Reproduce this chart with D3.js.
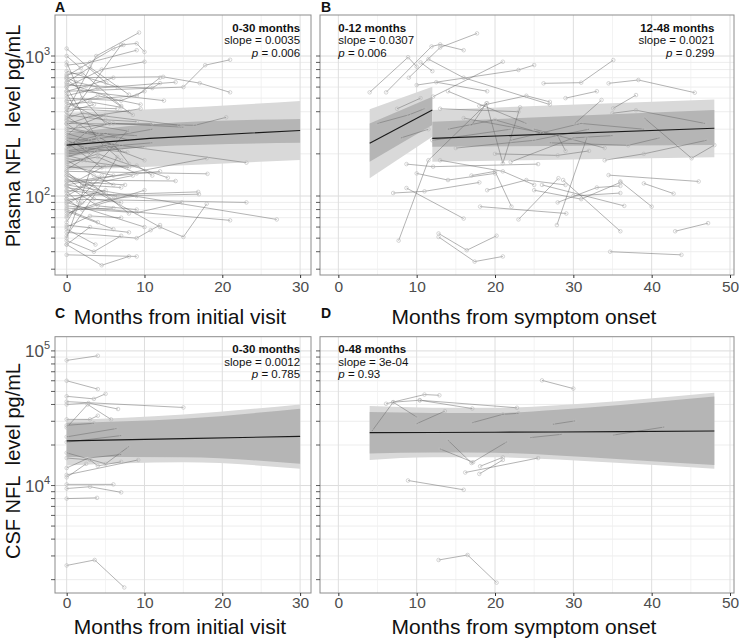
<!DOCTYPE html>
<html><head><meta charset="utf-8">
<script src="https://cdn.jsdelivr.net/npm/d3@7"></script>
<style>
body{margin:0;background:#fff;}
text{font-family:"Liberation Sans",Arial,Helvetica,sans-serif;}
</style></head>
<body><svg id="chart" width="739" height="639"></svg>
<script>
// ---------------- DATA ----------------
// Panel A: plasma NFL (pg/mL) vs months from initial visit; each subject = [[month, value],...]
const subjectsA = [
 [[0,400],[3.8,1000],[9.3,1470]],[[0,350],[7,1200],[9,1230],[10,1070]],[[0,600],[4.5,800],[10,910]],
 [[0,560],[15,600],[17.8,860],[21,940]],[[0,700],[12.4,710],[17.1,640],[21,550]],[[0,330],[16.5,320],[20.5,365]],
 [[0,260],[23.1,173]],[[0,120],[27,68]],[[0,95],[23.1,90]],[[0,85],[21,67]],[[0,140],[12,60],[15,51],[18,88]],
 [[0,150],[18.1,144]],[[0,100],[16.9,107]],[[0,120],[18,186]],[[0,1130],[5.1,640]],[[0,720],[6,1130],[7.3,1200]],
 [[0,650],[3,830],[8,530]],[[0,620],[11,590],[12,640]],[[0,500],[7,480],[10,560]],[[0,480],[9,520],[12,700]],
 [[0,740],[2,760],[7,440]],[[0,520],[4,590],[14,650]],[[0,45],[4.5,32],[8,37]],[[0,38],[9,37]],
 [[0,48],[3.5,40],[7,52]],[[0,60],[3,72],[7,70]],[[0,55],[9,50],[10.8,57],[12,62]],[[0,80],[4,65]],
 [[0,82],[9,76],[14.8,90]],[[0,110],[6,100],[17,103]],[[0,95],[2,80],[10,110]],[[0,130],[14,128]],
 [[0,160],[9,165],[11,140]],[[0,170],[4,200],[13,135]],[[0,210],[6,235],[8,170]],[[0,190],[5,230],[10,180]],
 [[0,230],[4,260]],[[0,300],[6,330],[15,310]],[[0,280],[3,250],[11,300]],[[0,360],[2,390],[14.5,320]],
 [[0,380],[5,350],[9,340]],[[0,420],[8,400]],[[0,450],[3,470],[7,430]],[[0,330],[1,300],[4,280]],
 [[0,250],[2.5,220],[7.8,205]],[[0,240],[4.5,160]],[[0,200],[10,225]],[[0,180],[3.5,140],[6,120]],
 [[0,150],[2,120],[7,115]],[[0,140],[1.5,130],[5,165]],[[0,125],[4,135],[12,150]],[[0,115],[6.5,100]],
 [[0,105],[3,125],[8,75]],[[0,92],[5,110]],[[0,88],[2,100],[4.5,140]],[[0,75],[5.5,95],[9,100]],
 [[0,70],[3.5,105]],[[0,65],[1,80],[6,82]],[[0,52],[4,110],[6.5,190]],[[0,50],[3,150],[8,300]],
 [[0,900],[2,500],[5,330]],[[0,600],[4,250],[7,180]],[[0,1000],[1.8,820]],[[0,860],[3,900],[9,1100]],
 [[0,780],[6.5,600]],[[0,680],[2,560],[12.5,480]],[[0,640],[5,520],[8.5,380]],[[0,540],[1,430],[6.5,420]],
 [[0,470],[5.5,330],[11,330]],[[0,430],[4,520],[9.5,450]],[[0,400],[3.5,450]],[[0,370],[7,210]],
 [[0,345],[8,290]],[[0,310],[2.5,280],[6.5,260]],[[0,290],[9,270]],[[0,270],[1.5,320],[5,380]],
 [[0,220],[3,300],[5.5,330]],[[0,205],[7,230],[11,240]],[[0,195],[2.5,180]],[[0,185],[8,160]],
 [[0,175],[4,190],[9,145]],[[0,165],[6,140]],[[0,155],[2,180],[3.8,210]],[[0,145],[5,105]],
 [[0,135],[3.5,95],[7,90]],[[0,128],[7.5,120]],[[0,118],[4,85],[9,80]],[[0,108],[1.5,90]],
 [[0,100],[2.5,120],[8.5,140]],[[0,90],[10,60]],[[0,78],[6,58]],[[0,72],[2,90]],[[0,62],[8,55]],
 [[0,58],[3.7,45]],[[0,45],[3,60]],[[0,700],[1.2,650],[4,600]],[[0,560],[2.5,610],[6,700]],
 [[0,325],[3,370],[9.5,420]],[[0,235],[5,280],[8,250]],[[0,215],[1,240],[3,200]]
];
// Panel B: plasma NFL vs months from symptom onset
const subjectsB = [
 [[4,550],[8.9,980],[10,840]],[[6.1,550],[11.9,1170],[13,1210],[16,1100]],[[9,700],[13,1150],[17.7,1450]],
 [[10.5,900],[12,780]],[[11.5,950],[16,700],[27,450]],[[10,620],[23,795],[25,862]],[[12.1,513],[21,910]],
 [[26.2,638],[31,645],[35.1,935]],[[34.5,638],[38.3,674],[45.5,547]],[[35.1,423],[38,526]],
 [[35,390],[38,410],[46.8,330]],[[39.1,359],[45.1,186],[48,231]],[[30.2,330],[33.6,485]],
 [[27.9,62],[31.7,258]],[[17,320],[18.9,459],[21,171],[23.2,430]],[[34.5,141],[46,127]],
 [[39,123],[42.8,104]],[[36,127],[40,84]],[[43,56],[47.2,64]],[[34.7,40],[43.8,38]],[[28.7,130],[36,56]],
 [[23,68],[28.1,134]],[[18.1,84],[29.1,75]],[[8.7,114],[16,69]],[[7,105],[11,108],[18,125]],
 [[7.7,48],[11.5,180],[19,460]],[[12.8,54],[16.4,41],[20.2,52]],[[12.8,51],[17.4,34],[21,37]],
 [[8.7,169],[12.1,162],[25.5,169]],[[12,250],[22,300]],[[13,420],[23,400]],[[14,560],[24,330]],
 [[8,260],[11.5,300]],[[5,330],[9,380],[11,420]],[[7.5,420],[10.5,500]],[[16,360],[28,270],[29,210]],
 [[15,220],[25,250],[32,300]],[[20,200],[28,195],[32,210]],[[22,175],[30,260],[35,270]],
 [[25,300],[34,220]],[[27,240],[37,230],[41,260]],[[34,180],[39,200],[47,250]],[[13,180],[21,150],[25,120]],
 [[17,140],[20,150],[22.1,84]],[[19,110],[24,130],[29,120]],[[25,110],[31,95],[36,125]],
 [[28,90],[33,115],[36,118]],[[30,100],[36,105]],[[26,120],[36.5,85]],[[14,300],[20,350],[26,280]],
 [[18,440],[24,520],[27,470]],[[29,500],[33,560]],[[12.5,650],[19,560]],[[22,250],[31,330],[39,300]],
 [[10,145],[14,130],[20,145]]
];
// Panel C: CSF NFL vs months from initial visit
const subjectsC = [
 [[0,85000],[4,92000]],[[0,60000],[4,52000]],[[0,46000],[3.5,44000],[5,48000]],[[0,42000],[15,38000]],
 [[0,40000],[2.8,41000],[6.6,37000]],[[0,27000],[2.7,40000],[5.7,31000]],[[0,31000],[3,31000],[4,33000]],
 [[0,28000],[3.5,29000]],[[0,23000],[6.4,26500]],[[0,21000],[7,23500]],[[0,17500],[5,14500],[8,19500]],
 [[0,16000],[3,15500],[4,14000],[7,15000]],[[0,13500],[2.8,16000],[7,17000]],[[0,12000],[9.2,15500]],
 [[0,11500],[2.5,14500]],[[0,10200],[6,10200]],[[0,9500],[3,9800],[7,8900]],[[0,8000],[3.9,8100]],
 [[0,2550],[3.6,2800],[7.4,1750]]
];
// Panel D: CSF NFL vs months from symptom onset
const subjectsD = [
 [[4.3,25400],[7,41600],[10,32300]],[[10,28800],[13.6,35700]],[[6.1,40500],[11,47400],[12.9,46800]],
 [[7,41600],[10.4,43000],[17.1,37300]],[[10.4,43000],[22.8,37800]],[[26,60400],[30,52500]],
 [[17.1,29300],[21,33800],[23,34400]],[[27.4,28500],[30.2,30200]],[[35.1,23700],[41.6,27200]],
 [[24.5,22700],[28.5,24000]],[[14,21700],[17,14700],[21.5,21100]],[[13,18700],[17.2,14900]],
 [[18.1,13900],[21,16200]],[[16.2,12500],[25.5,16000]],[[18,12200],[21,15500]],[[8.9,10900],[16,9300]],
 [[12.8,2800],[16.5,3050],[20.2,1900]]
];
// Model fits: months, fitted line, and the two bands (light = wide, dark = narrow)
const fitA_x = [0,10.7,30], fitA_line=[231,258,294], fitA_lightHi=[394,416,477], fitA_lightLo=[153,162,181], fitA_darkHi=[280,325,355], fitA_darkLo=[190,225,240];
const fitB1_x = [4,12], fitB1_line=[238,412], fitB1_lightHi=[416,604], fitB1_lightLo=[134,265], fitB1_darkHi=[330,512], fitB1_darkLo=[176,321];
const fitB2_x = [12,48], fitB2_line=[258,305], fitB2_lightHi=[412,490], fitB2_lightLo=[176,189], fitB2_darkHi=[339,412], fitB2_darkLo=[225,231];
const fitC_x = [0,15,30], fitC_line=[21460,22300,23200], fitC_lightHi=[30500,33700,40000], fitC_lightLo=[14100,14900,13300], fitC_darkHi=[29300,31400,37200], fitC_darkLo=[16300,16200,14500];
const fitD_x = [4,12,20,28,36,48], fitD_line=[24700,24800,24900,25000,25150,25400], fitD_lightHi=[38900,37900,37800,39500,42500,48800], fitD_lightLo=[15500,16200,16200,15600,14700,13300], fitD_darkHi=[35100,34600,34600,36500,39700,45800], fitD_darkLo=[17300,17600,17500,16700,15700,14200];
// Tick labels / domains
const xTicksInitial = [0,10,20,30], xMinorInitial=[5,15,25];
const xTicksOnset = [0,10,20,30,40,50], xMinorOnset=[5,15,25,35,45];
const xDomainInitial = [-1.5,31.4], xDomainOnset=[-2.34,50.51];
const yDomainPlasma = [Math.pow(10,1.4357), Math.pow(10,3.2929)], yMajorPlasma=[2,3];
const yDomainCSF = [Math.pow(10,3.2019), Math.pow(10,5.1054)], yMajorCSF=[4,5];
const annotA = [{title:"0-30 months", slope:"0.0035", p:"0.006", side:"right", at:30}];
const annotB = [{title:"0-12 months", slope:"0.0307", p:"0.006", side:"left", at:0},{title:"12-48 months", slope:"0.0021", p:"0.299", side:"right", at:48}];
const annotC = [{title:"0-30 months", slope:"0.0012", p:"0.785", side:"right", at:30}];
const annotD = [{title:"0-48 months", slope:"3e-04", p:"0.93", side:"left", at:0}];

// ---------------- DRAW ----------------
const svg = d3.select("#chart");
const panels = [
 {label:"A", box:[55,15,311,275], subj:subjectsA, xd:xDomainInitial, xt:xTicksInitial, xm:xMinorInitial, yd:yDomainPlasma, ym:yMajorPlasma, ylab:true,
  fits:[{x:fitA_x,l:fitA_line,lh:fitA_lightHi,ll:fitA_lightLo,dh:fitA_darkHi,dl:fitA_darkLo}], ann:annotA, xtitle:"Months from initial visit", titleY:324, labelY:12, pad:3},
 {label:"B", box:[320,15,734,275], subj:subjectsB, xd:xDomainOnset, xt:xTicksOnset, xm:xMinorOnset, yd:yDomainPlasma, ym:yMajorPlasma, ylab:false,
  fits:[{x:fitB1_x,l:fitB1_line,lh:fitB1_lightHi,ll:fitB1_lightLo,dh:fitB1_darkHi,dl:fitB1_darkLo},{x:fitB2_x,l:fitB2_line,lh:fitB2_lightHi,ll:fitB2_lightLo,dh:fitB2_darkHi,dl:fitB2_darkLo}], ann:annotB, xtitle:"Months from symptom onset", titleY:324, labelY:12, pad:3},
 {label:"C", box:[55,336.7,311,593], subj:subjectsC, xd:xDomainInitial, xt:xTicksInitial, xm:xMinorInitial, yd:yDomainCSF, ym:yMajorCSF, ylab:true,
  fits:[{x:fitC_x,l:fitC_line,lh:fitC_lightHi,ll:fitC_lightLo,dh:fitC_darkHi,dl:fitC_darkLo}], ann:annotC, xtitle:"Months from initial visit", titleY:634, labelY:318, pad:1},
 {label:"D", box:[320,336.7,734,593], subj:subjectsD, xd:xDomainOnset, xt:xTicksOnset, xm:xMinorOnset, yd:yDomainCSF, ym:yMajorCSF, ylab:false,
  fits:[{x:fitD_x,l:fitD_line,lh:fitD_lightHi,ll:fitD_lightLo,dh:fitD_darkHi,dl:fitD_darkLo}], ann:annotD, xtitle:"Months from symptom onset", titleY:634, labelY:318, pad:1}
];

panels.forEach((P,pi)=>{
  const [x0,y0,x1,y1] = P.box;
  const x = d3.scaleLinear().domain(P.xd).range([x0,x1]);
  const y = d3.scaleLog().domain(P.yd).range([y1,y0]);
  const g = svg.append("g");
  const clipId = "clip"+pi;
  svg.append("clipPath").attr("id",clipId).append("rect").attr("x",x0).attr("y",y0).attr("width",x1-x0).attr("height",y1-y0);
  g.append("rect").attr("x",x0).attr("y",y0).attr("width",x1-x0).attr("height",y1-y0).attr("fill","#fff");
  const lo = Math.floor(Math.log10(P.yd[0])), hi = Math.ceil(Math.log10(P.yd[1]));
  const logVals = [];
  for(let e=lo;e<=hi;e++) for(let k=1;k<=9;k++){ const v=k*Math.pow(10,e); if(v>=P.yd[0]&&v<=P.yd[1]) logVals.push({v,k}); }
  // grid
  const grid = g.append("g").attr("clip-path",`url(#${clipId})`);
  grid.selectAll("line.hy").data(logVals).join("line")
    .attr("x1",x0).attr("x2",x1).attr("y1",d=>y(d.v)).attr("y2",d=>y(d.v))
    .attr("stroke",d=>d.k===1?"#dcdcdc":"#e8e8e8").attr("stroke-width",d=>d.k===1?1:0.8);
  grid.selectAll("line.mx").data(P.xm).join("line")
    .attr("x1",d=>x(d)).attr("x2",d=>x(d)).attr("y1",y0).attr("y2",y1).attr("stroke","#eeeeee").attr("stroke-width",0.7);
  grid.selectAll("line.Mx").data(P.xt).join("line")
    .attr("x1",d=>x(d)).attr("x2",d=>x(d)).attr("y1",y0).attr("y2",y1).attr("stroke","#dedede").attr("stroke-width",1);
  // bands
  const inner = g.append("g").attr("clip-path",`url(#${clipId})`);
  P.fits.forEach(f=>{
    const pts = f.x.map((m,i)=>({m,l:f.l[i],lh:f.lh[i],ll:f.ll[i],dh:f.dh[i],dl:f.dl[i]}));
    const areaL = d3.area().x(d=>x(d.m)).y0(d=>y(d.ll)).y1(d=>y(d.lh)).curve(d3.curveMonotoneX);
    const areaD = d3.area().x(d=>x(d.m)).y0(d=>y(d.dl)).y1(d=>y(d.dh)).curve(d3.curveMonotoneX);
    inner.append("path").datum(pts).attr("d",areaL).attr("fill","#d9d9d9");
    inner.append("path").datum(pts).attr("d",areaD).attr("fill","#b5b5b5");
  });
  // subject lines
  const line = d3.line().x(d=>x(d[0])).y(d=>y(d[1]));
  inner.selectAll("path.subj").data(P.subj).join("path").attr("class","subj")
    .attr("d",line).attr("fill","none").attr("stroke","#6a6a6a").attr("stroke-width",0.6).attr("stroke-opacity",0.85);
  const pts = P.subj.flat();
  inner.selectAll("circle").data(pts).join("circle")
    .attr("cx",d=>x(d[0])).attr("cy",d=>y(d[1])).attr("r",1.8)
    .attr("fill","none").attr("stroke","#b8b8b8").attr("stroke-width",0.6);
  // fit lines
  P.fits.forEach(f=>{
    const pts2 = f.x.map((m,i)=>[m,f.l[i]]);
    inner.append("path").datum(pts2).attr("d",line).attr("fill","none").attr("stroke","#1a1a1a").attr("stroke-width",1.1);
  });
  // border
  g.append("rect").attr("x",x0).attr("y",y0).attr("width",x1-x0).attr("height",y1-y0)
    .attr("fill","none").attr("stroke","#8c8c8c").attr("stroke-width",1);
  // y ticks (log)
  g.selectAll("line.yt").data(logVals).join("line")
    .attr("x1",x0-4).attr("x2",x0).attr("y1",d=>y(d.v)).attr("y2",d=>y(d.v))
    .attr("stroke","#333").attr("stroke-width",0.8);
  if(P.ylab){
    P.ym.forEach(e=>{
      const t = g.append("text").attr("x",x0-5).attr("y",y(Math.pow(10,e))+6.5).attr("text-anchor","end")
        .attr("fill","#4d4d4d").attr("font-size",17);
      t.append("tspan").text("10");
      t.append("tspan").attr("font-size",11).attr("dy",-8).text(e);
    });
  }
  // x axis
  const xa = d3.axisBottom(x).tickValues(P.xt).tickSize(3).tickPadding(P.pad).tickFormat(d3.format("d"));
  const ax = svg.append("g").attr("transform",`translate(0,${y1})`).call(xa);
  ax.select(".domain").remove();
  ax.selectAll(".tick line").attr("stroke","#333");
  ax.selectAll(".tick text").attr("font-size",15.5).attr("fill","#4d4d4d").attr("font-family","Liberation Sans, Arial, sans-serif");
  // x title
  svg.append("text").attr("x",(x0+x1)/2-3).attr("y",P.titleY).attr("text-anchor","middle")
    .attr("font-size",21).attr("fill","#111").text(P.xtitle);
  // panel label
  svg.append("text").attr("x",x0+(pi%2===0?0:1)).attr("y",P.labelY).attr("font-size",14).attr("font-weight","bold").attr("fill","#111").text(P.label);
  // annotations
  P.ann.forEach(a=>{
    const ax0 = x(a.at);
    const anchor = a.side==="right"?"end":"start";
    svg.append("text").attr("x",ax0).attr("y",y0+16.5).attr("text-anchor",anchor).attr("font-size",11.5).attr("font-weight","bold").attr("fill","#111").text(a.title);
    svg.append("text").attr("x",ax0).attr("y",y0+29).attr("text-anchor",anchor).attr("font-size",11.5).attr("fill","#111").text("slope = "+a.slope);
    const t3 = svg.append("text").attr("x",ax0).attr("y",y0+41.5).attr("text-anchor",anchor).attr("font-size",11.5).attr("fill","#111");
    t3.append("tspan").attr("font-style","italic").text("p");
    t3.append("tspan").text(" = "+a.p);
  });
});
// y titles
svg.append("text").attr("transform","translate(20,136) rotate(-90)").attr("text-anchor","middle")
  .attr("font-size",20).attr("fill","#111").style("white-space","pre").text("Plasma NFL  level pg/mL");
svg.append("text").attr("transform","translate(20,461) rotate(-90)").attr("text-anchor","middle")
  .attr("font-size",20).attr("fill","#111").style("white-space","pre").text("CSF NFL  level pg/mL");
</script></body></html>
